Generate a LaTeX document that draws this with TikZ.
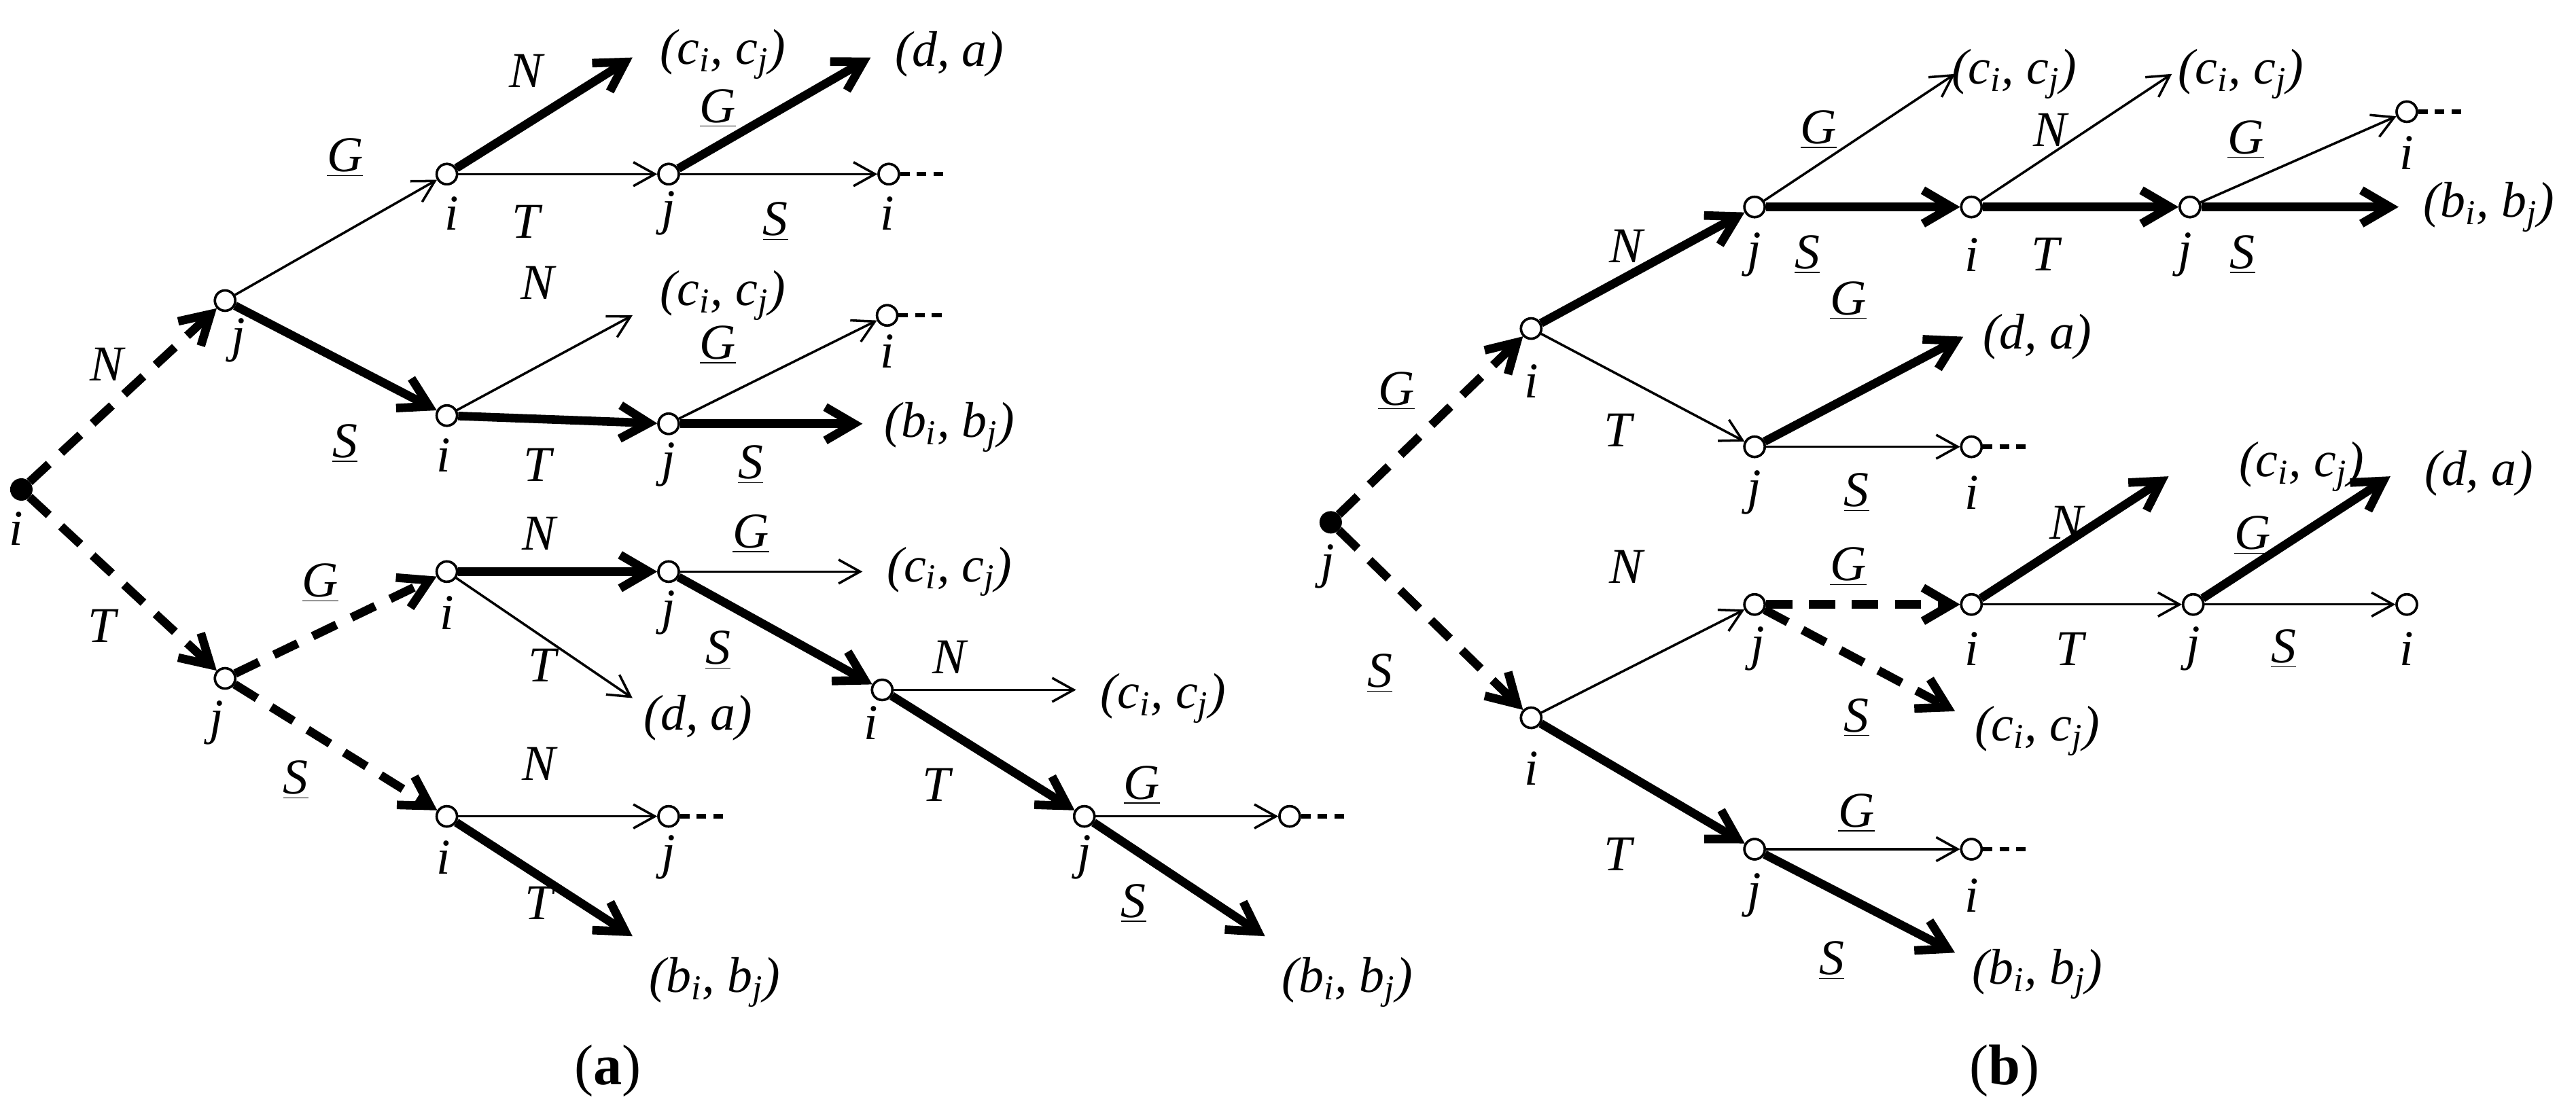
\documentclass[tikz,border=0pt]{standalone}
\usepackage{fontspec}
\setmainfont{Liberation Serif}
\usetikzlibrary{arrows.meta}
\begin{document}
\begin{tikzpicture}[x=0.02418cm,y=-0.02418cm,
 v/.style={circle,draw,fill=white,line width=1pt,inner sep=0,minimum size=8.5pt},
 r/.style={circle,draw,fill=black,inner sep=0,minimum size=9pt},
 tn/.style={line width=1pt,-{Straight Barb[length=9pt,width=10pt,line width=1pt]}},
 tk/.style={line width=3.6pt,-{Straight Barb[length=12pt,width=14pt,line width=3.6pt]}},
 dk/.style={tk,dash pattern=on 11pt off 7pt},
 st/.style={line width=1.8pt,dash pattern=on 4pt off 3pt},
 every node/.append style={font=\fontsize{21}{24}\selectfont\itshape}]
\useasboundingbox (0,0) rectangle (1568,673);
% ===== panel (a)
\node[r] (R) at (13,298) {};
\node[v] (j1) at (137,183) {}; \node[v] (j2) at (137,413) {};
\node[v] (a1) at (272,106) {}; \node[v] (a2) at (407,106) {}; \node[v] (a3) at (541,106) {};
\node[v] (b1) at (272,253) {}; \node[v] (b2) at (407,258) {}; \node[v] (b3) at (540,192) {};
\node[v] (c1) at (272,348) {}; \node[v] (c2) at (407,348) {}; \node[v] (c3) at (537,420) {};
\node[v] (c4) at (660,497) {}; \node[v] (c5) at (785,497) {};
\node[v] (d1) at (272,497) {}; \node[v] (d2) at (407,497) {};
\coordinate (ea1) at (385,35); \coordinate (ea2) at (530,35);
\coordinate (eb1) at (385,192); \coordinate (eb2) at (525,258);
\coordinate (ec1) at (385,425); \coordinate (ec2) at (525,348); \coordinate (ec3) at (655,420);
\coordinate (ec4) at (770,570); \coordinate (ed1) at (385,570);
\draw[dk] (R) -- (j1); \draw[dk] (R) -- (j2);
\draw[tn] (j1) -- (a1); \draw[tk] (a1) -- (ea1); \draw[tn] (a1) -- (a2);
\draw[tk] (a2) -- (ea2); \draw[tn] (a2) -- (a3); \draw[st] (a3) -- ++(37,0);
\draw[tk] (j1) -- (b1); \draw[tn] (b1) -- (eb1); \draw[tk] (b1) -- (b2);
\draw[tn] (b2) -- (b3); \draw[st] (b3) -- ++(37,0); \draw[tk] (b2) -- (eb2);
\draw[dk] (j2) -- (c1); \draw[tk] (c1) -- (c2); \draw[tn] (c1) -- (ec1);
\draw[tn] (c2) -- (ec2); \draw[tk] (c2) -- (c3); \draw[tn] (c3) -- (ec3);
\draw[tk] (c3) -- (c4); \draw[tn] (c4) -- (c5); \draw[st] (c5) -- ++(37,0);
\draw[tk] (c4) -- (ec4);
\draw[dk] (j2) -- (d1); \draw[tn] (d1) -- (d2); \draw[st] (d2) -- ++(37,0);
\draw[tk] (d1) -- (ed1);
\foreach \n in {j1,j2,a1,a2,a3,b1,b2,b3,c1,c2,c3,c4,c5,d1,d2} {\node[v] at (\n) {};}
% vertex labels
\node at (10,322) {i}; \node at (145,207) {j}; \node at (132,440) {j};
\node at (275,130) {i}; \node at (407,130) {j}; \node at (540,130) {i};
\node at (270,277) {i}; \node at (407,283) {j}; \node at (540,214) {i};
\node at (272,373) {i}; \node at (407,373) {j}; \node at (530,440) {i};
\node at (660,522) {j}; \node at (270,522) {i}; \node at (407,522) {j};
% edge labels
\node at (65,222) {N}; \node at (62,381) {T};
\node at (210,96) {\underline{G}}; \node at (320,43) {N}; \node at (320,135) {T};
\node at (437,66) {\underline{G}}; \node at (472,135) {\underline{S}};
\node at (210,270) {\underline{S}}; \node at (327,172) {N}; \node at (327,283) {T};
\node at (437,210) {\underline{G}}; \node at (457,283) {\underline{S}};
\node at (195,355) {\underline{G}}; \node at (328,325) {N}; \node at (330,405) {T};
\node at (457,325) {\underline{G}}; \node at (437,396) {\underline{S}};
\node at (578,400) {N}; \node at (570,478) {T}; \node at (695,478) {\underline{G}};
\node at (690,550) {\underline{S}};
\node at (180,475) {\underline{S}}; \node at (328,465) {N}; \node at (328,550) {T};
% end texts
\node at (440,33) {(c\textsubscript{i}, c\textsubscript{j})};
\node at (578,33) {(d, a)};
\node at (440,180) {(c\textsubscript{i}, c\textsubscript{j})};
\node at (578,260) {(b\textsubscript{i}, b\textsubscript{j})};
\node at (425,437) {(d, a)};
\node at (578,348) {(c\textsubscript{i}, c\textsubscript{j})};
\node at (708,425) {(c\textsubscript{i}, c\textsubscript{j})};
\node at (820,598) {(b\textsubscript{i}, b\textsubscript{j})};
\node at (435,598) {(b\textsubscript{i},\ b\textsubscript{j})};
\node[font=\fontsize{24}{28}\selectfont] at (370,652) {(\textbf{a})};
% ===== panel (b)
\node[r] (R2) at (810,318) {};
\node[v] (p1) at (932,200) {}; \node[v] (q1) at (932,437) {};
\node[v] (p2) at (1068,126) {}; \node[v] (p3) at (1200,126) {}; \node[v] (p4) at (1333,126) {};
\node[v] (p5) at (1465,68) {};
\node[v] (r1) at (1068,272) {}; \node[v] (r2) at (1200,272) {};
\node[v] (s1) at (1068,368) {}; \node[v] (s2) at (1200,368) {}; \node[v] (s3) at (1335,368) {};
\node[v] (s4) at (1465,368) {};
\node[v] (t1) at (1068,517) {}; \node[v] (t2) at (1200,517) {};
\coordinate (ep2) at (1190,45); \coordinate (ep3) at (1322,45); \coordinate (ep4) at (1460,126);
\coordinate (er1) at (1195,205); \coordinate (es1) at (1190,433); \coordinate (es2) at (1320,290);
\coordinate (es3) at (1455,290); \coordinate (et1) at (1190,580);
\draw[dk] (R2) -- (p1); \draw[dk] (R2) -- (q1);
\draw[tk] (p1) -- (p2); \draw[tn] (p2) -- (ep2); \draw[tk] (p2) -- (p3);
\draw[tn] (p3) -- (ep3); \draw[tk] (p3) -- (p4); \draw[tn] (p4) -- (p5);
\draw[st] (p5) -- ++(37,0); \draw[tk] (p4) -- (ep4);
\draw[tn] (p1) -- (r1); \draw[tk] (r1) -- (er1); \draw[tn] (r1) -- (r2); \draw[st] (r2) -- ++(37,0);
\draw[tn] (q1) -- (s1); \draw[dk] (s1) -- (s2); \draw[dk] (s1) -- (es1);
\draw[tk] (s2) -- (es2); \draw[tn] (s2) -- (s3); \draw[tk] (s3) -- (es3); \draw[tn] (s3) -- (s4);
\draw[tk] (q1) -- (t1); \draw[tn] (t1) -- (t2); \draw[st] (t2) -- ++(37,0); \draw[tk] (t1) -- (et1);
\foreach \n in {p1,q1,p2,p3,p4,p5,r1,r2,s1,s2,s3,s4,t1,t2} {\node[v] at (\n) {};}
\node at (808,345) {j}; \node at (932,232) {i}; \node at (932,468) {i};
\node at (1068,155) {j}; \node at (1200,155) {i}; \node at (1330,155) {j}; \node at (1465,93) {i};
\node at (1068,300) {j}; \node at (1200,300) {i};
\node at (1070,395) {j}; \node at (1200,395) {i}; \node at (1335,395) {j}; \node at (1465,395) {i};
\node at (1068,545) {j}; \node at (1200,545) {i};
\node at (850,238) {\underline{G}}; \node at (840,410) {\underline{S}};
\node at (990,150) {N}; \node at (1107,79) {\underline{G}}; \node at (1100,155) {\underline{S}};
\node at (1248,79) {N}; \node at (1245,155) {T}; \node at (1367,85) {\underline{G}};
\node at (1365,155) {\underline{S}};
\node at (985,262) {T}; \node at (1125,183) {\underline{G}}; \node at (1130,300) {\underline{S}};
\node at (990,345) {N}; \node at (1125,345) {\underline{G}}; \node at (1130,437) {\underline{S}};
\node at (1258,318) {N}; \node at (1260,395) {T}; \node at (1371,326) {\underline{G}};
\node at (1390,395) {\underline{S}};
\node at (985,520) {T}; \node at (1130,495) {\underline{G}}; \node at (1115,585) {\underline{S}};
\node at (1226,45) {(c\textsubscript{i}, c\textsubscript{j})};
\node at (1364,45) {(c\textsubscript{i}, c\textsubscript{j})};
\node at (1515,126) {(b\textsubscript{i}, b\textsubscript{j})};
\node at (1240,205) {(d, a)};
\node at (1240,445) {(c\textsubscript{i}, c\textsubscript{j})};
\node at (1401,284) {(c\textsubscript{i}, c\textsubscript{j})};
\node at (1509,288) {(d, a)};
\node at (1240,593) {(b\textsubscript{i}, b\textsubscript{j})};
\node[font=\fontsize{24}{28}\selectfont] at (1220,652) {(\textbf{b})};
\end{tikzpicture}
\end{document}
